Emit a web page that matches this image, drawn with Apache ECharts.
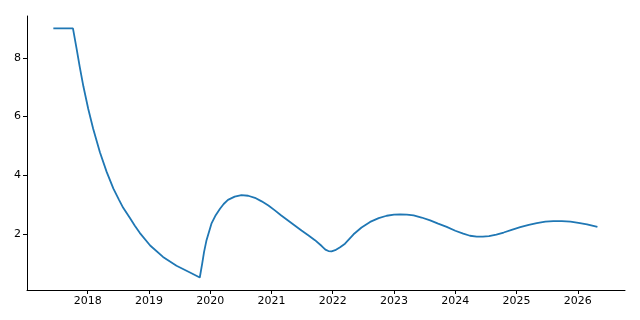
<!DOCTYPE html>
<html>
<head>
<meta charset="utf-8">
<script src="https://cdn.jsdelivr.net/npm/echarts@6/dist/echarts.min.js"></script>
<style>html,body{margin:0;padding:0;background:#fff}#c{width:640px;height:320px}</style>
</head>
<body>
<div id="c"></div>
<script>
const years = [2017.44,2017.60,2017.76,2017.82,2017.87,2017.93,2018.01,2018.09,2018.20,2018.31,2018.42,2018.51,2018.58,2018.69,2018.77,2018.85,2019.02,2019.23,2019.45,2019.67,2019.83,
2019.87,2019.90,2019.94,2020.02,2020.09,2020.16,2020.22,2020.29,2020.40,2020.51,2020.62,2020.73,2020.84,2020.95,2021.05,2021.16,2021.27,2021.38,2021.49,2021.60,2021.71,2021.82,2021.88,2021.93,2021.98,2022.04,2022.12,2022.20,2022.34,2022.47,2022.61,2022.75,2022.88,2023.00,2023.10,2023.21,2023.32,2023.45,2023.59,2023.72,2023.86,2024.00,2024.13,2024.24,2024.35,2024.45,2024.55,2024.67,2024.79,2024.92,2025.06,2025.20,2025.33,2025.47,2025.60,2025.74,2025.88,2026.01,2026.15,2026.32];
const values = [9.0,9.0,9.0,8.30,7.70,7.03,6.26,5.59,4.79,4.12,3.55,3.18,2.90,2.55,2.29,2.05,1.62,1.23,0.93,0.70,0.53,
1.01,1.40,1.80,2.36,2.65,2.87,3.03,3.17,3.28,3.33,3.31,3.24,3.12,2.98,2.82,2.64,2.47,2.30,2.13,1.97,1.80,1.60,1.48,1.43,1.42,1.46,1.56,1.68,2.0,2.23,2.42,2.55,2.63,2.67,2.68,2.67,2.64,2.57,2.47,2.36,2.25,2.12,2.02,1.95,1.92,1.92,1.94,1.99,2.06,2.15,2.24,2.32,2.38,2.43,2.45,2.45,2.43,2.39,2.34,2.25];
const xTicks = [2018,2019,2020,2021,2022,2023,2024,2025,2026];
const yTicks = [2,4,6,8];

const chart = echarts.init(document.getElementById('c'), null, {renderer:'canvas'});
const font = 'DejaVu Sans';
chart.setOption({
  animation:false,
  grid:{left:27,right:15,top:16,bottom:30},
  xAxis:{
    type:'value', min:2017.01, max:2026.77,
    splitLine:{show:false},
    axisLine:{onZero:false,lineStyle:{color:'#000',width:1}},
    axisTick:{show:true,length:4,lineStyle:{color:'#000'},customValues:xTicks},
    axisLabel:{color:'#000',fontFamily:font,fontSize:11,margin:6,customValues:xTicks,formatter:v=>String(Math.round(v))}
  },
  yAxis:{
    type:'value', min:0.106, max:9.42,
    splitLine:{show:false},
    axisLine:{show:true,onZero:false,lineStyle:{color:'#000',width:1}},
    axisTick:{show:true,length:4,lineStyle:{color:'#000'},customValues:yTicks},
    axisLabel:{color:'#000',fontFamily:font,fontSize:11,margin:6,customValues:yTicks,formatter:v=>String(Math.round(v))}
  },
  series:[{
    type:'line', data:years.map((y,i)=>[y,values[i]]),
    showSymbol:false, symbol:'none', smooth:false,
    lineStyle:{color:'#1f77b4',width:1.8}
  }]
});
</script>
</body>
</html>
